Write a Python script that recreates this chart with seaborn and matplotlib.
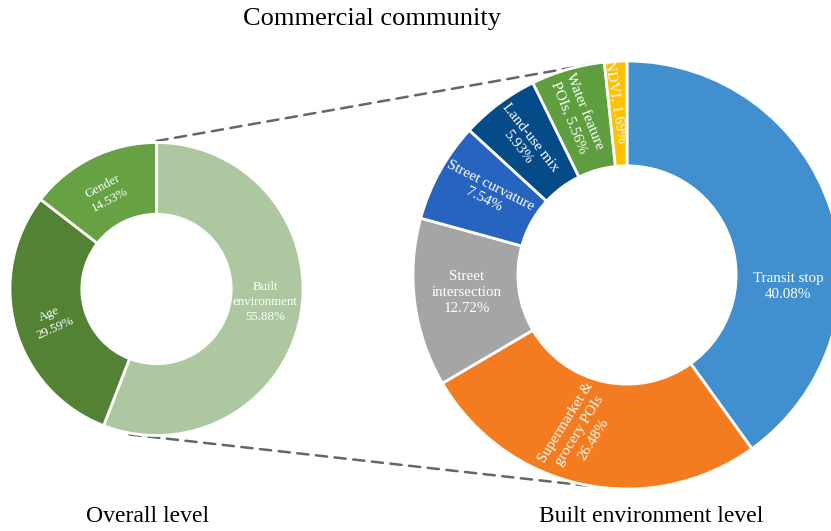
import numpy as np
import matplotlib
matplotlib.use("Agg")
import matplotlib.pyplot as plt
from matplotlib.patches import ConnectionPatch
import seaborn as sns

sns.set_theme(style="white")
plt.rcParams['font.family'] = ['Liberation Serif', 'DejaVu Serif']

# ---------------- data ----------------
title = "Commercial community"
overall_labels = ["Built\nenvironment", "Age", "Gender"]
overall_values = [55.88, 29.59, 14.53]
overall_colors = ["#ADC8A1", "#548235", "#66A243"]

built_labels = ["Transit stop", "Supermarket &\ngrocery POIs", "Street\nintersection",
                "Street curvature", "Land-use mix", "Water feature\nPOIs,", "NDVI,"]
built_values = [40.08, 26.48, 12.72, 7.54, 5.93, 5.56, 1.69]
built_colors = ["#418FCF", "#F47C20", "#A5A5A5", "#2764C0", "#054B87", "#5E9E3F", "#FFC000"]

bottom_labels = ["Overall level", "Built environment level"]

# ---------------- layout ----------------
W, H = 831, 531
fig = plt.figure(figsize=(W / 100, H / 100), dpi=100)

def donut_axes(cx, cy, r):
    return fig.add_axes([(cx - r) / W, (H - cy - r) / H, 2 * r / W, 2 * r / H])

axL = donut_axes(156.5, 289, 146.5)
axR = donut_axes(627, 275, 214)

wp = dict(width=0.49, edgecolor="white", linewidth=2)
for ax, vals, cols in [(axL, overall_values, overall_colors), (axR, built_values, built_colors)]:
    ax.pie(vals, colors=cols, startangle=90, counterclock=False, radius=1,
           wedgeprops=wp)
    ax.set_xlim(-1, 1)
    ax.set_ylim(-1, 1)
    ax.set_aspect("equal")
    ax.axis("off")

# label placement (x, y, rotation) in donut units
left_pos = [(0.74, -0.09, 0), (-0.71, -0.22, 24), (-0.34, 0.655, 28)]
right_pos = [(0.752, -0.056, 0), (-0.22, -0.73, 58), (-0.748, -0.084, 0),
             (-0.654, 0.383, -27), (-0.48, 0.62, -52), (-0.235, 0.75, -68),
             (-0.051, 0.81, -81)]

for lab, v, (x, y, rot) in zip(overall_labels, overall_values, left_pos):
    axL.text(x, y, f"{lab}\n{v:.2f}%", color="white", fontsize=9.3,
             ha="center", va="center", rotation=rot, rotation_mode="anchor",
             multialignment="center", linespacing=1.3)

for lab, v, (x, y, rot) in zip(built_labels, built_values, right_pos):
    if lab.endswith(","):
        txt = f"{lab} {v:.2f}%"
    else:
        txt = f"{lab}\n{v:.2f}%"
    axR.text(x, y, txt, color="white", fontsize=10.8,
             ha="center", va="center", rotation=rot, rotation_mode="anchor",
             multialignment="center", linespacing=1.3)

# dashed connectors between the two donuts
def pt(angle_deg, r=1.0):
    a = np.deg2rad(angle_deg)
    return (r * np.cos(a), r * np.sin(a))

for a_left, a_right in [(90, 97.2), (259.5, 266.2)]:
    con = ConnectionPatch(xyA=pt(a_left, 1.01), coordsA=axL.transData,
                          xyB=pt(a_right, 1.0), coordsB=axR.transData,
                          color="#666666", linewidth=1.8, linestyle=(0, (4.5, 3)),
                          zorder=0)
    fig.add_artist(con)

fig.text(372 / W, 1 - 19 / H, title, ha="center", va="center", fontsize=19, color="black")
fig.text(148 / W, 1 - 516 / H, bottom_labels[0], ha="center", va="center", fontsize=17, color="black")
fig.text(651 / W, 1 - 516 / H, bottom_labels[1], ha="center", va="center", fontsize=17, color="black")

fig.savefig("out.png", dpi=100)
